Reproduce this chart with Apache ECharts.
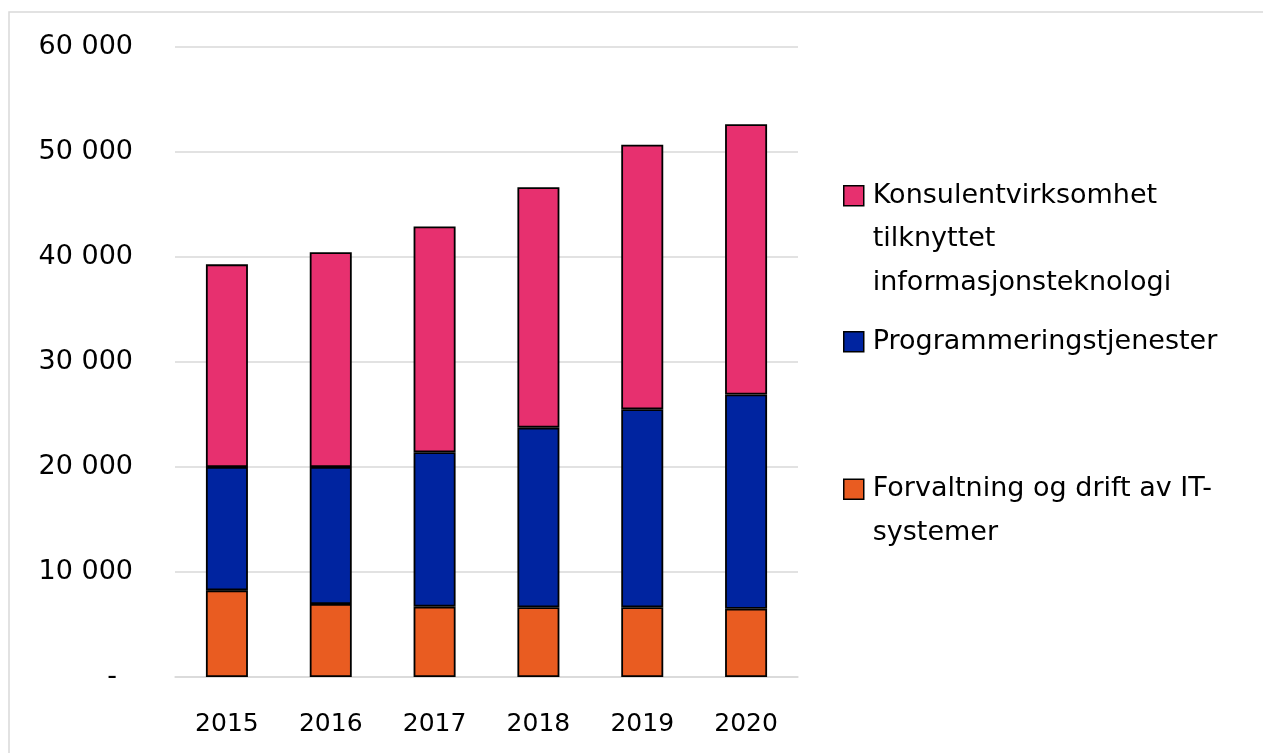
<!DOCTYPE html>
<html>
<head>
<meta charset="utf-8">
<script src="https://cdn.jsdelivr.net/npm/echarts@6/dist/echarts.min.js"></script>
<style>
html,body{margin:0;padding:0;background:#fff;}
#chart{width:1263px;height:753px;}
</style>
</head>
<body>
<div id="chart"></div>
<script>
const years = ['2015', '2016', '2017', '2018', '2019', '2020'];
const seriesNames = [
  'Forvaltning og drift av IT-systemer',
  'Programmeringstjenester',
  'Konsulentvirksomhet tilknyttet informasjonsteknologi'
];
const forvaltning = [8250, 6950, 6700, 6650, 6650, 6500];
const programmering = [11750, 13050, 14700, 17100, 18850, 20400];
const konsulent = [19300, 20450, 21500, 22900, 25200, 25750];
const yTicks = { min: 0, max: 60000, interval: 10000 };

const colors = ['#E95C21', '#0024A0', '#E7306F'];
const FONT = 'DejaVu Sans';
const FS = 25;
const LFS = 27;
const YFS = 27;
const LH = 43.5;

function fmt(v) {
  if (v === 0) return '{z|-}';
  return String(v).replace(/\B(?=(\d{3})+(?!\d))/g, ' ');
}

const chart = echarts.init(document.getElementById('chart'));
const legendBase = {
  orient: 'vertical',
  left: 843,
  padding: 0,
  itemWidth: 20,
  itemHeight: 20,
  icon: 'rect',
  itemStyle: { borderColor: '#000', borderWidth: 1.5 },
  textStyle: { fontFamily: FONT, fontSize: LFS, color: '#000', lineHeight: LH, padding: [0, 0, 0, 4] }
};
chart.setOption({
  animation: false,
  graphic: [{
    type: 'rect', z: -1, silent: true,
    shape: { x: 9, y: 12, width: 1400, height: 900 },
    style: { fill: 'none', stroke: '#d9d9d9', lineWidth: 1.5 }
  }],
  grid: { left: 175, right: 465, top: 47, bottom: 76, containLabel: false },
  legend: [
    Object.assign({}, legendBase, {
      top: 87,
      data: [seriesNames[2]],
      formatter: () => '\n\nKonsulentvirksomhet\ntilknyttet\ninformasjonsteknologi'
    }),
    Object.assign({}, legendBase, {
      top: 320,
      data: [seriesNames[1]]
    }),
    Object.assign({}, legendBase, {
      top: 424,
      data: [seriesNames[0]],
      formatter: () => '\nForvaltning og drift av IT-\nsystemer'
    })
  ],
  xAxis: {
    type: 'category',
    data: years,
    axisLine: { show: true, lineStyle: { color: '#d9d9d9', width: 1.5 } },
    axisTick: { show: false },
    axisLabel: { fontFamily: FONT, fontSize: FS, color: '#000', margin: 35 }
  },
  yAxis: {
    type: 'value',
    min: yTicks.min, max: yTicks.max, interval: yTicks.interval,
    axisLine: { show: false },
    axisTick: { show: false },
    splitLine: { lineStyle: { color: '#d9d9d9', width: 1.5 } },
    axisLabel: {
      fontFamily: FONT, fontSize: YFS, color: '#000', margin: 42,
      formatter: fmt,
      rich: { z: { fontFamily: FONT, fontSize: YFS, color: '#000', padding: [0, 16, 0, 0] } }
    }
  },
  series: [
    { name: seriesNames[0], type: 'bar', stack: 'a', data: forvaltning, barWidth: 42,
      itemStyle: { color: colors[0], borderColor: '#000', borderWidth: 1.8 } },
    { name: seriesNames[1], type: 'bar', stack: 'a', data: programmering, barWidth: 42,
      itemStyle: { color: colors[1], borderColor: '#000', borderWidth: 1.8 } },
    { name: seriesNames[2], type: 'bar', stack: 'a', data: konsulent, barWidth: 42,
      itemStyle: { color: colors[2], borderColor: '#000', borderWidth: 1.8 } }
  ]
});
</script>
</body>
</html>
